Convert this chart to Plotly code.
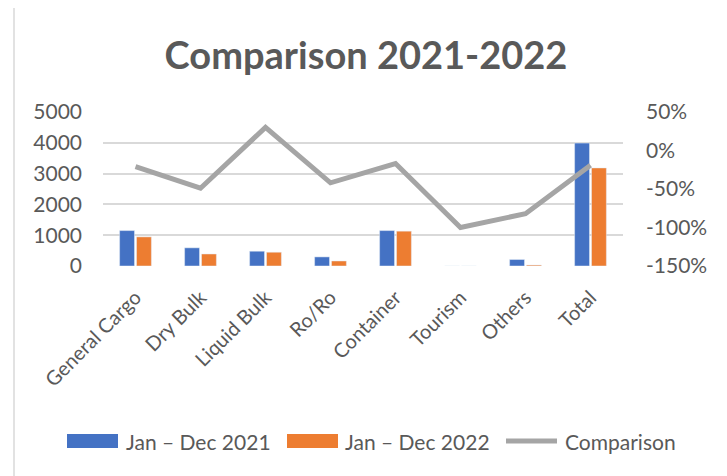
import plotly.graph_objects as go

categories = ["General Cargo", "Dry Bulk", "Liquid Bulk", "Ro/Ro", "Container", "Tourism", "Others", "Total"]
jan_dec_2021 = [1150, 590, 480, 295, 1150, 0, 210, 3990]
jan_dec_2022 = [945, 390, 447, 163, 1131, 0, 30, 3184]
comparison = [-0.21, -0.49, 0.30, -0.42, -0.17, -1.00, -0.82, -0.19]
pct_ticks = [-1.5, -1.0, -0.5, 0.0, 0.5]
pct_labels = ["-150%", "-100%", "-50%", "0%", "50%"]
series_names = ["Jan – Dec 2021", "Jan – Dec 2022", "Comparison"]
series_colors = ["#4472C4", "#ED7D31", "#A5A5A5"]

FONT = "Lato, 'Open Sans', sans-serif"
GRAY = "#595959"
FS = 21

fig = go.Figure()
fig.add_trace(go.Bar(x=categories, y=jan_dec_2021, name=series_names[0], marker_color=series_colors[0]))
fig.add_trace(go.Bar(x=categories, y=jan_dec_2022, name=series_names[1], marker_color=series_colors[1]))
fig.add_trace(go.Scatter(x=categories, y=comparison, name=series_names[2], mode="lines",
                         line=dict(color=series_colors[2], width=5), yaxis="y2"))

OFF = 8  # page body margin
W, H = 727 - OFF, 476 - OFF
L, T = 103 - OFF, 112 - OFF
R = W - (623 - OFF)
B = H - (266 - OFF)
pw, ph = W - L - R, H - T - B

def px_x(p):
    return (p - OFF - L) / pw

def px_y(p):
    return (H - B - (p - OFF)) / ph

# custom legend (wide swatches like the original)
leg_y = 441
swatch = [(67, 118), (287, 338), (504, 559)]
text_x = [124, 343, 563]
shapes = [dict(type="rect", xref="paper", yref="paper",
               x0=px_x(14), x1=px_x(723), y0=px_y(495), y1=px_y(7),
               line=dict(color="#D9D9D9", width=1.5), fillcolor="rgba(0,0,0,0)", layer="below")]
annotations = []
for i, name in enumerate(series_names):
    x0, x1 = swatch[i]
    if i < 2:
        shapes.append(dict(type="rect", xref="paper", yref="paper",
                           x0=px_x(x0), x1=px_x(x1), y0=px_y(leg_y + 7), y1=px_y(leg_y - 7),
                           line=dict(width=0), fillcolor=series_colors[i]))
    else:
        shapes.append(dict(type="line", xref="paper", yref="paper",
                           x0=px_x(x0 + 2), x1=px_x(x1 - 2), y0=px_y(leg_y), y1=px_y(leg_y),
                           line=dict(color=series_colors[i], width=5)))
    annotations.append(dict(text=name, xref="paper", yref="paper", x=px_x(text_x[i]), y=px_y(leg_y),
                            xanchor="left", yanchor="middle", showarrow=False,
                            font=dict(size=FS, color=GRAY, family=FONT)))

fig.update_layout(
    width=W, height=H,
    margin=dict(l=L, r=R, t=T, b=B),
    paper_bgcolor="white", plot_bgcolor="white",
    font=dict(family=FONT, color=GRAY, size=FS),
    title=dict(text="<b>Comparison 2021-2022</b>", x=px_x(366), xref="paper", xanchor="center",
               y=1 - (56 - OFF) / H, yanchor="middle", font=dict(size=38, color=GRAY, family=FONT)),
    barmode="group", bargap=0.48, bargroupgap=0.12,
    showlegend=False,
    xaxis=dict(tickangle=-45, tickfont=dict(size=20, color=GRAY), showgrid=False,
               showline=False, ticks="", automargin=False, ticklabelstandoff=15),
    yaxis=dict(range=[0, 5000], dtick=1000, gridcolor="#D9D9D9", gridwidth=1.5,
               tickfont=dict(size=FS, color=GRAY), zeroline=False, ticks="", ticklabelstandoff=20,
               automargin=False),
    yaxis2=dict(range=[-1.5, 0.5], tickvals=pct_ticks, ticktext=pct_labels, overlaying="y", side="right",
                showgrid=False, zeroline=False, tickfont=dict(size=FS, color=GRAY), ticklabelstandoff=22,
                automargin=False),
    shapes=shapes,
    annotations=annotations,
)

fig.write_html("out.html")
